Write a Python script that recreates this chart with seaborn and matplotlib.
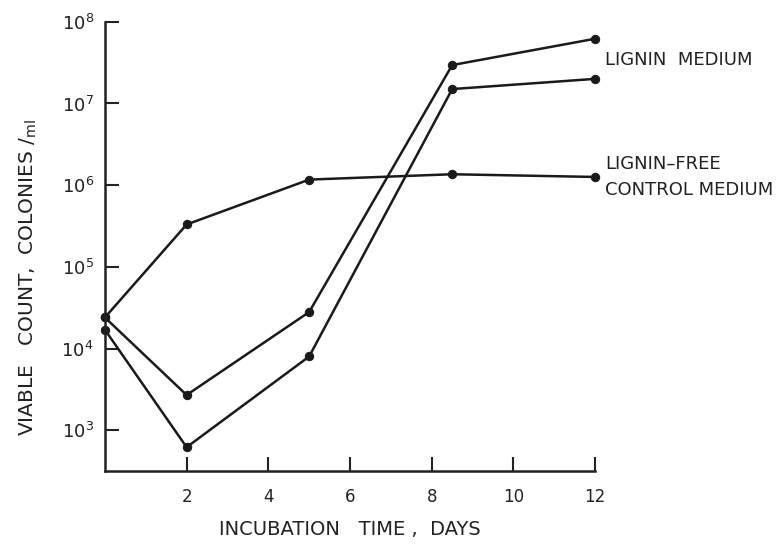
import matplotlib
matplotlib.use("Agg")
import matplotlib.pyplot as plt
import seaborn as sns
import pandas as pd
import numpy as np

sns.set_theme(style="ticks")
plt.rcParams['font.family'] = ['DejaVu Sans']

days = [0, 2, 5, 8.5, 12]
control = [2.4e4, 3.3e5, 1.17e6, 1.36e6, 1.26e6]
lignin_a = [2.4e4, 2.7e3, 2.8e4, 2.95e7, 6.2e7]
lignin_b = [1.7e4, 6.2e2, 8.0e3, 1.5e7, 2.0e7]

xticks = [2, 4, 6, 8, 10, 12]
yticks = [1e3, 1e4, 1e5, 1e6, 1e7, 1e8]
ytick_labels = [r"$10^{3}$", r"$10^{4}$", r"$10^{5}$", r"$10^{6}$", r"$10^{7}$", r"$10^{8}$"]

df = pd.concat([
    pd.DataFrame({"day": days, "count": control, "series": "control"}),
    pd.DataFrame({"day": days, "count": lignin_a, "series": "lignin_a"}),
    pd.DataFrame({"day": days, "count": lignin_b, "series": "lignin_b"}),
])

fig = plt.figure(figsize=(7.77, 5.44), dpi=100)
ax = fig.add_axes([0.135, 0.134, 0.631, 0.826])

sns.lineplot(data=df, x="day", y="count", units="series", estimator=None,
             color="#1a1a1a", marker="o", markersize=6, linewidth=1.8,
             markeredgecolor="#1a1a1a", ax=ax, legend=False, clip_on=False)

ax.set_yscale("log")
ax.set_xlim(0, 12)
ax.set_ylim(10**2.5, 1e8)
ax.set_xticks(xticks)
ax.set_xticklabels([str(t) for t in xticks], fontsize=12, color="#222222")
ax.set_yticks(yticks)
ax.set_yticklabels(ytick_labels, fontsize=13, color="#222222")
ax.yaxis.set_minor_locator(matplotlib.ticker.NullLocator())
ax.tick_params(axis="both", direction="in", length=10, width=1.5, color="#222222")
ax.tick_params(axis="x", pad=12)
ax.tick_params(axis="y", pad=8)
for s in ["top", "right"]:
    ax.spines[s].set_visible(False)
for s in ["left", "bottom"]:
    ax.spines[s].set_linewidth(1.8)
    ax.spines[s].set_color("#222222")

ax.set_xlabel("INCUBATION   TIME ,  DAYS", fontsize=14, color="#222222", labelpad=10)
ax.set_ylabel(r"VIABLE   COUNT,  COLONIES $/_{\mathrm{ml}}$", fontsize=14.5, color="#222222")
ax.yaxis.set_label_coords(-0.135, 0.43)

ax.text(1.02, 0.915, "LIGNIN  MEDIUM", transform=ax.transAxes, fontsize=13,
        color="#222222", va="center", ha="left")
ax.text(1.02, 0.654, "LIGNIN\u2013FREE\nCONTROL MEDIUM", transform=ax.transAxes, fontsize=13,
        color="#222222", va="center", ha="left", linespacing=1.6)

fig.savefig("out.png", dpi=100)
